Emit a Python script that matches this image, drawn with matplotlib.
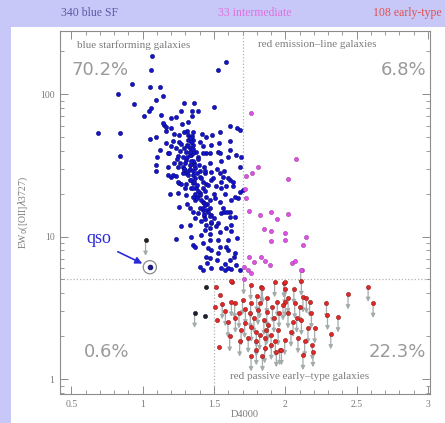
import matplotlib
matplotlib.use('Agg')
import matplotlib.pyplot as plt
from matplotlib.patches import Rectangle
from matplotlib.ticker import MultipleLocator, NullFormatter

# ---------------- data ----------------
blue_d4000 = [1.067, 1.055, 0.926, 1.048, 1.118, 0.83, 1.092, 0.942, 1.055, 1.041, 1.006, 1.13,
              0.687, 0.84, 1.048, 1.095, 0.84, 1.102, 1.165, 1.146,
              1.586, 1.527, 1.141, 1.29, 1.357, 1.497, 1.27, 1.345, 1.387, 1.195, 1.235, 1.345,
              1.277, 1.317, 1.141, 1.165, 1.2, 1.223, 1.258, 1.293, 1.352, 1.348, 1.418, 1.446,
              1.485, 1.539, 1.61, 1.661, 1.68, 1.16, 1.2, 1.258, 1.317, 1.352, 1.399, 1.422,
              1.481, 1.534, 1.61, 1.614, 1.692, 1.176, 1.231, 1.306, 1.334, 1.341, 1.376, 1.446,
              1.527, 1.118,
              1.095, 1.095, 1.183, 1.176, 1.235, 1.2, 1.247, 1.282, 1.306, 1.329, 1.352, 1.387,
              1.422, 1.469, 1.539, 1.598, 1.657, 1.68, 1.329, 1.364, 1.394, 1.306, 1.352, 1.399,
              1.434, 1.481, 1.539, 1.563, 1.61, 1.258, 1.27, 1.306, 1.352, 1.376, 1.422, 1.446,
              1.516, 1.551, 1.587, 1.633, 1.68, 1.704, 1.247, 1.306, 1.352, 1.399, 1.446, 1.469,
              1.422, 1.504, 1.539, 1.622, 1.668, 1.258, 1.329, 1.352, 1.387, 1.422, 1.469, 1.481,
              1.551, 1.61, 1.61, 1.645, 1.364, 1.41, 1.446, 1.481, 1.516, 1.434, 1.469, 1.539,
              1.587, 1.27, 1.235, 1.341, 1.41, 1.469, 1.527, 1.598, 1.352, 1.422, 1.457, 1.481,
              1.539, 1.587, 1.446, 1.469, 1.527, 1.61, 1.645, 1.399, 1.422, 1.481, 1.551, 1.575,
              1.598, 1.622, 1.657, 1.68,
              1.30, 1.32, 1.28, 1.33, 1.36, 1.40, 1.42, 1.44, 1.37, 1.40, 1.45, 1.50, 1.48, 1.38,
              1.31, 1.35, 1.29, 1.25, 1.39, 1.43, 1.47, 1.52, 1.55, 1.58, 1.50, 1.43, 1.33, 1.56,
              1.62, 1.66, 1.53, 1.47, 1.60, 1.37, 1.45, 1.52, 1.64, 1.58, 1.34, 1.29, 1.41, 1.26,
              1.21, 1.38, 1.46, 1.31, 1.44, 1.35, 1.49, 1.57]
blue_ew = [186, 148, 118, 112, 112, 100, 91, 85.5, 80.5, 76, 70, 71,
           53.8, 53, 48.5, 50.2, 36.6, 36.4, 54.8, 61,
           169, 148, 97, 86.5, 86.5, 81.7, 76.6, 76.6, 76.6, 68.6, 69, 70,
           61.5, 63.5, 63, 58.7, 57.8, 52.4, 51.8, 54.7, 54.7, 51, 52.4, 50.3,
           51.8, 54.7, 60.2, 57.8, 56, 45.3, 43, 46, 47.8, 44.1, 46.5, 43,
           44.1, 45.3, 46.9, 40.6, 36.5, 38.5, 41.7, 39.5, 41.7, 37.6, 39.5, 38.5,
           39, 40.6,
           31.9, 28.9, 38.5, 27.1, 26.6, 26.3, 31, 31, 34.6, 37.5, 38.5, 36.5,
           38.5, 38.5, 38.8, 36.5, 37.6, 31, 31.9, 30.2, 31.9, 27.9, 27.1, 26.3,
           27.9, 28.6, 27.9, 26.3, 25, 23.7, 23.3, 23.3, 23.7, 21.8, 21.8, 23.3,
           22.5, 21.8, 22.7, 22.5, 20.7, 21.3, 20.2, 19.6, 19.1, 20.2, 19.1, 18.1,
           17.6, 18.6, 17.6, 18.1, 18.6, 16.2, 15.8, 15, 14.6, 15.4, 15.8, 14.2,
           14.6, 15, 13.8, 13.8, 13.5, 12.8, 12.1, 12.4, 11.8, 11.1, 11.5, 10.8,
           11.5, 11.8, 9.6, 9.9, 10.3, 9.5, 9.5, 9.4, 8.75, 9.0, 8.3, 8.07,
           8.5, 8.5, 7.24, 7.05, 7.64, 6.86, 7.64, 6.16, 5.84, 6.0, 6.0, 5.84,
           6.0, 5.9, 6.3, 5.84,
           33, 29, 36, 25, 33, 29, 24, 21, 18, 16, 17, 20, 25, 28,
           44, 48, 42, 37, 35, 31, 33, 30, 24, 20, 13.5, 14, 12, 16,
           11, 9.8, 12.5, 10.5, 8.0, 8.5, 6.5, 6.8, 7.2, 6.4, 22, 30, 26, 33,
           47, 19, 23, 17, 29, 34, 26, 15]

# dense core of the blue cloud
blue_core_d4000 = [1.31, 1.32, 1.33, 1.34, 1.32, 1.35, 1.33, 1.31, 1.34, 1.36,
                   1.33, 1.35, 1.32, 1.37, 1.34, 1.36, 1.38, 1.35, 1.39, 1.37,
                   1.40, 1.38, 1.41, 1.43, 1.44, 1.42, 1.45, 1.46, 1.43, 1.47,
                   1.44, 1.48, 1.27, 1.26, 1.24, 1.29, 1.28, 1.22, 1.25, 1.30,
                   1.21, 1.18, 1.19, 1.55, 1.57, 1.60, 1.63, 1.65, 1.59, 1.62]
blue_core_ew = [55, 52, 49, 46, 43, 41, 39, 36, 34, 32,
                30, 29, 27, 26, 25, 24, 23, 22, 21, 20,
                19.5, 18.8, 18, 17.2, 16.6, 16, 15.5, 15, 14.5, 14,
                13.2, 12.6, 45, 40, 35, 30, 28, 33, 24, 22,
                27, 31, 20, 34, 29, 26, 24, 19, 15, 12]

mid_d4000 = [1.762, 2.073, 1.808, 1.766, 1.722, 2.019, 1.717, 1.727, 1.749, 1.82, 1.902,
             1.944, 2.019, 1.848, 1.897, 2.0, 2.148, 1.897, 2.0, 2.122, 1.745, 1.832, 1.783,
             1.855, 1.895, 2.05, 2.068, 2.115, 1.736, 1.757, 2.108, 1.708, 1.712]
mid_ew = [73.6, 35.1, 30.9, 28.1, 26.7, 25.4, 21.5, 18.6, 15.1, 14.2, 14.8,
          13.4, 14.4, 11.3, 10.9, 10.6, 10.0, 9.33, 9.44, 8.79, 7.24, 7.2, 6.64,
          6.71, 6.36, 6.56, 6.71, 5.84, 5.84, 5.53, 5.84, 5.0, 6.1]
mid_lim = [0, 0, 0, 0, 0, 0, 0, 0, 0, 0, 0,
           0, 0, 0, 0, 0, 0, 0, 0, 0, 0, 0, 0,
           0, 0, 0, 0, 0, 0, 0, 1, 1, 0]

red_d4000 = [1.511, 1.628, 1.539, 1.757, 1.832, 1.925, 1.99, 1.504, 1.558, 1.622, 1.645, 1.757,
             1.82, 1.944, 2.0, 1.675, 1.755, 1.808, 1.871, 1.956, 1.523, 1.598, 1.715, 1.762,
             1.797, 1.82, 1.868, 1.61, 1.68, 1.797, 1.855, 1.902, 1.937, 1.534, 1.797, 1.96,
             2.113, 1.996, 1.996, 2.44, 2.581, 2.616, 2.289, 2.296, 2.37, 2.319, 2.124, 2.148,
             2.171, 2.066, 2.101, 2.183, 1.984, 2.019, 2.054, 2.113, 2.206, 2.159, 2.089, 2.136,
             2.19, 2.194, 2.124, 1.996, 1.973,
             1.85, 1.88, 1.92, 1.95, 1.78, 1.72, 1.69, 1.74, 1.86, 1.90, 1.93, 1.84, 1.76, 1.65,
             1.58, 2.04, 2.08, 2.02, 1.91, 1.87, 2.06, 1.80, 1.70, 1.62, 1.84]
red_ew = [4.41, 4.8, 3.9, 4.58, 4.46, 4.8, 4.75, 3.22, 3.37, 3.5, 3.4, 3.4,
          3.4, 3.5, 3.5, 2.9, 2.9, 3.06, 2.98, 2.93, 2.6, 2.5, 2.48, 2.33,
          2.15, 2.04, 2.21, 1.99, 1.84, 1.84, 1.65, 1.74, 1.55, 1.69, 1.6, 1.6,
          4.9, 4.8, 4.27, 3.95, 4.46, 3.44, 3.4, 2.82, 2.72, 2.07, 3.75, 3.7,
          3.5, 3.4, 3.22, 2.9, 3.3, 2.9, 2.53, 2.6, 2.27, 2.27, 1.94, 1.84,
          1.74, 1.55, 1.48, 1.88, 1.6,
          2.6, 2.4, 2.7, 2.2, 2.7, 3.1, 2.2, 1.95, 1.95, 2.05, 1.85, 1.45, 1.45, 2.7,
          3.0, 2.15, 2.7, 3.7, 3.2, 3.7, 4.3, 3.8, 3.6, 4.88, 4.34]
red_lim = [0, 0, 0, 1, 1, 1, 1, 0, 1, 1, 1, 1,
           1, 1, 1, 1, 1, 1, 1, 1, 0, 1, 1, 1,
           1, 1, 1, 1, 1, 1, 1, 1, 1, 0, 1, 1,
           1, 1, 1, 1, 1, 1, 1, 1, 1, 1, 1, 1,
           1, 1, 1, 1, 1, 1, 1, 1, 1, 1, 1, 1,
           1, 1, 1, 1, 1,
           1, 1, 1, 1, 1, 1, 1, 1, 1, 1, 1, 1, 1, 1,
           1, 1, 1, 1, 1, 1, 1, 1, 1, 0, 1]

black_d4000 = [1.441, 1.364, 1.434, 1.02]
black_ew = [4.41, 2.93, 2.75, 9.4]
black_lim = [0, 1, 0, 1]

qso_d4000 = [1.05]
qso_ew = [6.1]

ew_cut = 5.0
d4000_cut_upper = 1.7
d4000_cut_lower = 1.5

# ---------------- figure ----------------
W, H = 445, 423
fig = plt.figure(figsize=(W / 100, H / 100), dpi=100)
fig.patch.set_facecolor('#c8c8f8')
fig.patches.append(Rectangle((11 / W, 0), 1, 1 - 27 / H, transform=fig.transFigure,
                             facecolor='white', edgecolor='none', zorder=-10))

ax = fig.add_axes([60 / W, 1 - 394 / H, 370 / W, 363 / H])
ax.set_facecolor('white')
ax.set_yscale('log')
ax.set_xlim(0.42, 3.015)
ax.set_ylim(0.785, 278)

gray = '#8c8c8c'
serif = ['Liberation Serif', 'DejaVu Serif']

for s in ax.spines.values():
    s.set_color(gray)
    s.set_linewidth(0.8)

ax.xaxis.set_major_locator(MultipleLocator(0.5))
ax.xaxis.set_minor_locator(MultipleLocator(0.1))
ax.set_xticks([0.5, 1, 1.5, 2, 2.5, 3], labels=['0.5', '1', '1.5', '2', '2.5', '3'])
ax.set_yticks([1, 10, 100], labels=['1', '10', '100'])
ax.yaxis.set_minor_formatter(NullFormatter())
ax.tick_params(which='both', direction='in', top=True, right=True, color=gray,
               labelcolor='#7a7a7a', labelsize=7, pad=4)
ax.tick_params(which='major', length=6, width=0.7)
ax.tick_params(which='minor', length=3, width=0.6)
for lab in ax.get_xticklabels() + ax.get_yticklabels():
    lab.set_family(serif)

ax.set_xlabel('D4000', fontsize=7.5, color='#7a7a7a', family=serif, labelpad=1)
ax.set_ylabel(r'EW$_0$([OII]$\lambda$3727)', fontsize=7, color='#7a7a7a', family=serif,
              labelpad=7)

# dividing lines
dot = (0, (1, 1.6))
ax.axhline(ew_cut, color='#b4b4b4', lw=0.9, ls=dot, zorder=1)
ax.vlines(d4000_cut_upper, ew_cut, 400, color='#b4b4b4', lw=0.9, ls=dot, zorder=1)
ax.vlines(d4000_cut_lower, 0.5, ew_cut, color='#b4b4b4', lw=0.9, ls=dot, zorder=1)

# upper-limit arrows
arrow_col = '#a3abab'
def limits(xs, ys, flags):
    for x, y, f in zip(xs, ys, flags):
        if f:
            ax.annotate('', xy=(x, y * 0.78), xytext=(x, y * 0.96),
                        arrowprops=dict(arrowstyle='-|>', color=arrow_col, lw=0.9,
                                        mutation_scale=6, shrinkA=0, shrinkB=0),
                        zorder=2)

limits(red_d4000, red_ew, red_lim)
limits(mid_d4000, mid_ew, mid_lim)
limits(black_d4000, black_ew, black_lim)

ms = 9
blue_kw = dict(s=ms, c='#1414c8', edgecolors='#0a0a80', linewidths=0.4, zorder=3)
ax.scatter(blue_d4000, blue_ew, **blue_kw)
ax.scatter(blue_core_d4000, blue_core_ew, **blue_kw)
ax.scatter(mid_d4000, mid_ew, s=ms, c='#e050e8', edgecolors='#a040a0', linewidths=0.4, zorder=3)
ax.scatter(red_d4000, red_ew, s=ms, c='#e02828', edgecolors='#901818', linewidths=0.4, zorder=3)
ax.scatter(black_d4000, black_ew, s=ms, c='#202030', edgecolors='#101010', linewidths=0.4, zorder=3)
ax.scatter(qso_d4000, qso_ew, s=ms, c='#1a1a80', zorder=3)
ax.scatter(qso_d4000, qso_ew, s=90, facecolors='none', edgecolors='#8a8a8a', linewidths=0.9, zorder=3)

ax.annotate('qso', xy=(qso_d4000[0], qso_ew[0]), xytext=(-46, 21), textcoords='offset points',
            fontsize=13, color='#2a2ad8', family=serif, ha='left', va='center',
            arrowprops=dict(arrowstyle='-|>', color='#2a2ad8', lw=1.2, mutation_scale=10,
                            shrinkA=4, shrinkB=6, relpos=(0.85, 0.0)))

# region labels
lab_col = '#7c7c7c'
ax.text(0.045, 0.975, 'blue starforming galaxies', transform=ax.transAxes, fontsize=8,
        color=lab_col, family=serif, ha='left', va='top')
ax.text(0.535, 0.975, 'red emission\u2013line galaxies', transform=ax.transAxes, fontsize=8,
        color=lab_col, family=serif, ha='left', va='top')
ax.text(0.46, 0.035, 'red passive early\u2013type galaxies', transform=ax.transAxes, fontsize=8,
        color=lab_col, family=serif, ha='left', va='bottom')

pct_col = '#9a9a9a'
ax.text(0.03, 0.893, '70.2%', transform=ax.transAxes, fontsize=13, color=pct_col, ha='left', va='center')
ax.text(0.99, 0.893, '6.8%', transform=ax.transAxes, fontsize=13, color=pct_col, ha='right', va='center')
ax.text(0.065, 0.115, '0.6%', transform=ax.transAxes, fontsize=13, color=pct_col, ha='left', va='center')
ax.text(0.99, 0.115, '22.3%', transform=ax.transAxes, fontsize=13, color=pct_col, ha='right', va='center')

# header counts
fig.text(61 / W, 1 - 13 / H, '340 blue SF', fontsize=8.5, color='#5a5aa8', family=serif,
         ha='left', va='center')
fig.text(255 / W, 1 - 13 / H, '33 intermediate', fontsize=8.5, color='#e070e0', family=serif,
         ha='center', va='center')
fig.text(442 / W, 1 - 13 / H, '108 early-type', fontsize=8.5, color='#e05050', family=serif,
         ha='right', va='center')

fig.savefig('out.png', dpi=100, facecolor=fig.get_facecolor())
